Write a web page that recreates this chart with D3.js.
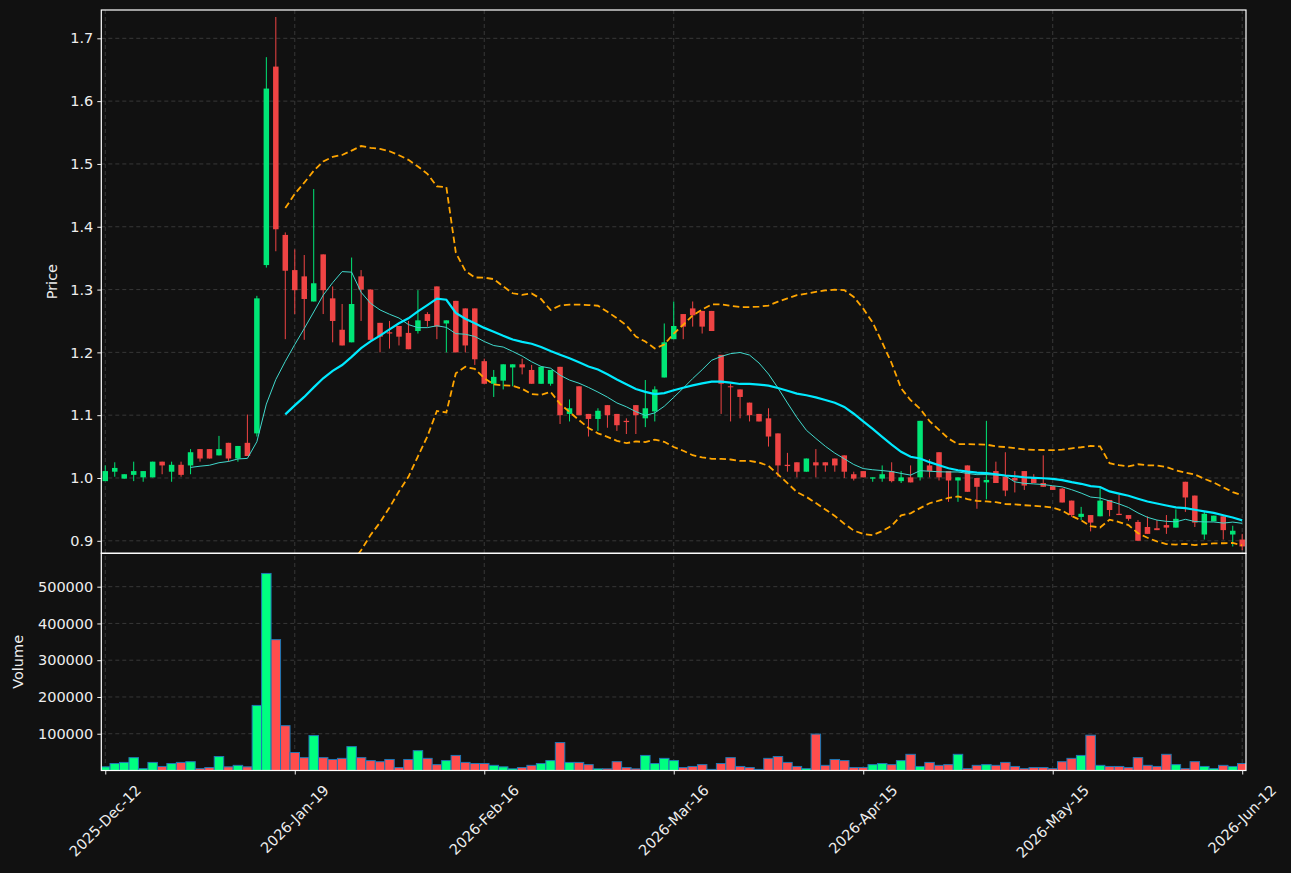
<!DOCTYPE html>
<html>
<head>
<meta charset="utf-8">
<script src="https://cdn.jsdelivr.net/npm/d3@7/dist/d3.min.js"></script>
<style>
  body { margin: 0; background: #111111; }
  svg { display: block; font-family: "DejaVu Sans", sans-serif; }
</style>
</head>
<body>
<div id="chart"></div>
<script>
// x axis is the trading-day index; labels only on every 20th day
var tickIdx = [0, 20, 40, 60, 80, 100, 120];
var tickLabels = ["2025-Dec-12", "2026-Jan-19", "2026-Feb-16", "2026-Mar-16", "2026-Apr-15", "2026-May-15", "2026-Jun-12"];

var opens = [0.995,1.010,0.999,1.005,1.001,1.001,1.026,1.010,1.021,1.020,
  1.046,1.046,1.036,1.056,1.031,1.056,1.071,1.339,1.655,1.387,
  1.331,1.321,1.281,1.356,1.286,1.236,1.216,1.321,1.300,1.247,
  1.232,1.242,1.231,1.234,1.261,1.305,1.246,1.282,1.270,1.270,
  1.186,1.150,1.155,1.176,1.181,1.172,1.150,1.150,1.177,1.102,
  1.146,1.102,1.094,1.116,1.102,1.091,1.116,1.095,1.106,1.160,
  1.221,1.261,1.270,1.266,1.266,1.196,1.146,1.141,1.120,1.102,
  1.095,1.071,1.021,1.025,1.010,1.025,1.025,1.031,1.036,1.006,
  1.011,0.999,0.999,1.011,0.995,1.001,1.001,1.020,1.041,1.011,
  0.996,1.020,1.000,0.993,1.011,1.002,1.000,1.011,1.001,0.992,
  0.987,0.983,0.964,0.938,0.941,0.939,0.965,0.943,0.941,0.930,
  0.922,0.920,0.925,0.921,0.994,0.972,0.910,0.931,0.939,0.910,0.902];
var highs = [1.020,1.025,1.006,1.026,1.011,1.026,1.026,1.026,1.026,1.046,
  1.046,1.046,1.067,1.056,1.051,1.101,1.290,1.670,1.734,1.391,
  1.364,1.355,1.460,1.356,1.305,1.277,1.351,1.331,1.300,1.247,
  1.250,1.242,1.250,1.299,1.264,1.305,1.251,1.282,1.270,1.270,
  1.190,1.172,1.181,1.181,1.190,1.180,1.177,1.172,1.177,1.125,
  1.146,1.102,1.111,1.116,1.102,1.095,1.116,1.156,1.146,1.246,
  1.281,1.261,1.281,1.266,1.266,1.196,1.150,1.141,1.120,1.102,
  1.111,1.071,1.040,1.025,1.031,1.046,1.025,1.031,1.036,1.010,
  1.011,1.001,1.020,1.025,1.011,1.020,1.091,1.030,1.041,1.011,
  1.001,1.020,1.000,1.091,1.026,1.041,1.011,1.011,1.006,1.036,
  0.987,0.984,0.964,0.954,0.941,0.985,0.965,0.973,0.941,0.933,
  0.939,0.933,0.941,0.950,0.994,0.972,0.946,0.940,0.939,0.924,0.911];
var lows = [0.995,1.002,0.999,0.995,0.994,1.001,1.006,0.994,1.002,1.006,
  1.026,1.031,1.036,1.026,1.026,1.035,1.066,1.335,1.361,1.221,
  1.261,1.220,1.281,1.261,1.216,1.211,1.216,1.250,1.220,1.200,
  1.206,1.211,1.205,1.230,1.241,1.221,1.200,1.200,1.200,1.180,
  1.150,1.129,1.141,1.146,1.165,1.150,1.150,1.147,1.086,1.090,
  1.100,1.066,1.075,1.080,1.075,1.070,1.070,1.081,1.090,1.160,
  1.221,1.221,1.241,1.230,1.234,1.102,1.090,1.095,1.090,1.090,
  1.050,1.002,1.010,1.001,1.010,1.001,1.010,1.010,1.000,0.996,
  1.001,0.994,0.994,0.993,0.992,0.993,0.996,1.001,0.996,0.962,
  0.962,0.978,0.951,0.966,0.992,0.971,0.977,0.981,0.992,0.986,
  0.981,0.961,0.938,0.933,0.915,0.939,0.939,0.941,0.932,0.900,
  0.911,0.917,0.911,0.921,0.946,0.922,0.902,0.931,0.902,0.891,0.885];
var closes = [1.011,1.016,1.006,1.011,1.011,1.026,1.020,1.021,1.005,1.041,
  1.031,1.031,1.046,1.031,1.051,1.035,1.286,1.620,1.396,1.330,
  1.299,1.285,1.310,1.299,1.250,1.211,1.277,1.300,1.220,1.225,
  1.230,1.225,1.205,1.251,1.250,1.241,1.251,1.200,1.211,1.189,
  1.150,1.161,1.181,1.181,1.176,1.150,1.177,1.172,1.100,1.111,
  1.100,1.094,1.107,1.100,1.084,1.089,1.100,1.111,1.141,1.216,
  1.242,1.241,1.259,1.241,1.234,1.150,1.145,1.129,1.100,1.090,
  1.066,1.020,1.019,1.010,1.031,1.020,1.020,1.020,1.010,0.999,
  1.001,1.001,1.006,0.995,1.001,0.993,1.091,1.011,1.001,0.996,
  1.001,0.978,0.986,0.997,0.992,0.980,0.996,0.988,0.992,0.986,
  0.981,0.961,0.941,0.943,0.929,0.964,0.949,0.941,0.935,0.900,
  0.911,0.917,0.921,0.935,0.969,0.929,0.943,0.940,0.917,0.916,0.891];
var volumes = [10000,19000,22000,35000,5000,22000,11000,19000,22000,24000,
  5000,8000,38000,10000,14000,10000,177000,536000,356000,122000,
  49000,35000,95000,35000,30000,33000,65000,35000,27000,24000,
  30000,8000,30000,54000,33000,16000,27000,41000,22000,19000,
  19000,14000,10000,4500,8000,14000,19000,27000,76000,22000,
  22000,16000,4500,4500,24000,8000,4500,41000,19000,33000,
  27000,8000,11000,16000,3000,19000,35000,11000,8000,3000,
  33000,38000,22000,11000,5000,99000,14000,30000,27000,8000,
  8000,16000,19000,16000,27000,44000,11000,22000,14000,16000,
  44000,5000,14000,16000,14000,22000,11000,5000,8000,8000,
  5000,24000,33000,41000,96000,14000,11000,11000,8000,35000,
  14000,11000,44000,16000,5000,24000,11000,5000,14000,11000,19000];

var width = 1291, height = 873;
var plot = {left: 101.3, right: 1246, top: 10, mid: 553.3, bottom: 770.5};

var upCandle = "#00e676", downCandle = "#ef4444";
var upVol = "#00ff80", downVol = "#ff4d4d";
var textColor = "#eeeeee", gridColor = "#3c3c3c";

var n = closes.length;
var idx = d3.range(n);

// rolling mean / band from the closes, like the source chart's overlays
function rolling(win, fn) {
  return idx.map(function(i) {
    if (i < win - 1) return null;
    return fn(closes.slice(i - win + 1, i + 1));
  });
}
function band(k) {
  return function(a) {
    var m = d3.mean(a), s = Math.sqrt(d3.mean(a, function(v) { return (v - m) * (v - m); }));
    return m + k * s;
  };
}
var ma10 = rolling(10, d3.mean);
var ma20 = rolling(20, d3.mean);
var bbUp = rolling(20, band(2));
var bbLo = rolling(20, band(-2));

var x = d3.scaleLinear().domain([-0.42, 120.4]).range([plot.left, plot.right]);
var y = d3.scaleLinear().domain([0.8801, 1.7451]).range([plot.mid, plot.top]);
var yv = d3.scaleLinear().domain([0, 590800]).range([plot.bottom, plot.mid]);
var step = x(1) - x(0);

var svg = d3.select("#chart").append("svg")
  .attr("width", width)
  .attr("height", height);

svg.append("rect").attr("width", width).attr("height", height).attr("fill", "#111111");

var defs = svg.append("defs");
defs.append("clipPath").attr("id", "clipPrice")
  .append("rect")
  .attr("x", plot.left).attr("y", plot.top)
  .attr("width", plot.right - plot.left).attr("height", plot.mid - plot.top);
defs.append("clipPath").attr("id", "clipVol")
  .append("rect")
  .attr("x", plot.left).attr("y", plot.mid)
  .attr("width", plot.right - plot.left).attr("height", plot.bottom - plot.mid);

// grid
var grid = svg.append("g")
  .attr("stroke", gridColor)
  .attr("stroke-width", 0.9)
  .attr("stroke-dasharray", "4,3");
tickIdx.forEach(function(t) {
  grid.append("line").attr("x1", x(t)).attr("x2", x(t)).attr("y1", plot.top).attr("y2", plot.bottom);
});
var priceTicks = d3.range(0.9, 1.701, 0.1);
priceTicks.forEach(function(t) {
  grid.append("line").attr("x1", plot.left).attr("x2", plot.right).attr("y1", y(t)).attr("y2", y(t));
});
var volTicks = [100000, 200000, 300000, 400000, 500000];
volTicks.forEach(function(t) {
  grid.append("line").attr("x1", plot.left).attr("x2", plot.right).attr("y1", yv(t)).attr("y2", yv(t));
});

// candles
var gPrice = svg.append("g").attr("clip-path", "url(#clipPrice)");
var bodyW = step * 0.58;

gPrice.selectAll("line.wick")
  .data(idx)
  .enter().append("line")
  .attr("class", "wick")
  .attr("x1", function(i) { return x(i); })
  .attr("x2", function(i) { return x(i); })
  .attr("y1", function(i) { return y(highs[i]); })
  .attr("y2", function(i) { return y(lows[i]); })
  .attr("stroke", function(i) { return closes[i] >= opens[i] ? upCandle : downCandle; })
  .attr("stroke-width", 1);

gPrice.selectAll("rect.body")
  .data(idx)
  .enter().append("rect")
  .attr("class", "body")
  .attr("x", function(i) { return x(i) - bodyW / 2; })
  .attr("width", bodyW)
  .attr("y", function(i) { return y(Math.max(opens[i], closes[i])); })
  .attr("height", function(i) { return Math.max(1, Math.abs(y(opens[i]) - y(closes[i]))); })
  .attr("fill", function(i) { return closes[i] >= opens[i] ? upCandle : downCandle; });

function lineOf(arr) {
  return d3.line()
    .defined(function(i) { return arr[i] !== null; })
    .x(function(i) { return x(i); })
    .y(function(i) { return y(arr[i]); });
}

gPrice.append("path").datum(idx)
  .attr("d", lineOf(ma10))
  .attr("fill", "none").attr("stroke", "#40d8cc").attr("stroke-width", 1);
gPrice.append("path").datum(idx)
  .attr("d", lineOf(ma20))
  .attr("fill", "none").attr("stroke", "#00eaff").attr("stroke-width", 2.2);
[bbUp, bbLo].forEach(function(b) {
  gPrice.append("path").datum(idx)
    .attr("d", lineOf(b))
    .attr("fill", "none").attr("stroke", "#ffa500")
    .attr("stroke-width", 1.8).attr("stroke-dasharray", "6.5,3.5");
});

// volume bars
var gVol = svg.append("g").attr("clip-path", "url(#clipVol)");
gVol.selectAll("rect")
  .data(idx)
  .enter().append("rect")
  .attr("x", function(i) { return x(i) - step / 2; })
  .attr("width", step)
  .attr("y", function(i) { return yv(volumes[i]); })
  .attr("height", function(i) { return yv(0) - yv(volumes[i]); })
  .attr("fill", function(i) { return closes[i] >= opens[i] ? upVol : downVol; })
  .attr("stroke", "#1f77b4")
  .attr("stroke-width", 1);

// axes
var yAxis = d3.axisLeft(y)
  .tickValues(priceTicks)
  .tickFormat(d3.format(".1f"))
  .tickSize(4).tickPadding(4);
var yvAxis = d3.axisLeft(yv)
  .tickValues(volTicks)
  .tickFormat(d3.format("d"))
  .tickSize(4).tickPadding(4);
var xAxis = d3.axisBottom(x)
  .tickValues(tickIdx)
  .tickFormat("")
  .tickSize(4);

function styleAxis(g) {
  g.select(".domain").remove();
  g.selectAll(".tick line").attr("stroke", textColor).attr("stroke-width", 1);
  g.selectAll(".tick text").attr("fill", textColor).style("font-size", "14.5px")
    .style("font-family", "DejaVu Sans");
}

svg.append("g").attr("transform", "translate(" + plot.left + ",0)").call(yAxis).call(styleAxis);
svg.append("g").attr("transform", "translate(" + plot.left + ",0)").call(yvAxis).call(styleAxis);
svg.append("g").attr("transform", "translate(0," + plot.bottom + ")").call(xAxis).call(styleAxis);

// rotated date labels
var fs = 14.5;
tickIdx.forEach(function(t, k) {
  var txt = svg.append("text")
    .attr("fill", textColor)
    .style("font-size", fs + "px")
    .attr("text-anchor", "middle")
    .attr("dominant-baseline", "central")
    .text(tickLabels[k]);
  var len = txt.node().getComputedTextLength();
  var half = (len + fs) * 0.7071 / 2;
  txt.attr("transform", "translate(" + x(t) + "," + (plot.bottom + 12 + half) + ") rotate(-45)");
});

// spines
var spines = svg.append("g").attr("stroke", "#ffffff").attr("stroke-width", 1.2).attr("fill", "none");
spines.append("rect")
  .attr("x", plot.left).attr("y", plot.top)
  .attr("width", plot.right - plot.left).attr("height", plot.mid - plot.top);
spines.append("rect")
  .attr("x", plot.left).attr("y", plot.mid)
  .attr("width", plot.right - plot.left).attr("height", plot.bottom - plot.mid);

// axis titles
svg.append("text")
  .attr("transform", "translate(57," + ((plot.top + plot.mid) / 2) + ") rotate(-90)")
  .attr("text-anchor", "middle")
  .attr("fill", textColor)
  .style("font-size", fs + "px")
  .text("Price");
svg.append("text")
  .attr("transform", "translate(23," + ((plot.mid + plot.bottom) / 2) + ") rotate(-90)")
  .attr("text-anchor", "middle")
  .attr("fill", textColor)
  .style("font-size", fs + "px")
  .text("Volume");
</script>
</body>
</html>
